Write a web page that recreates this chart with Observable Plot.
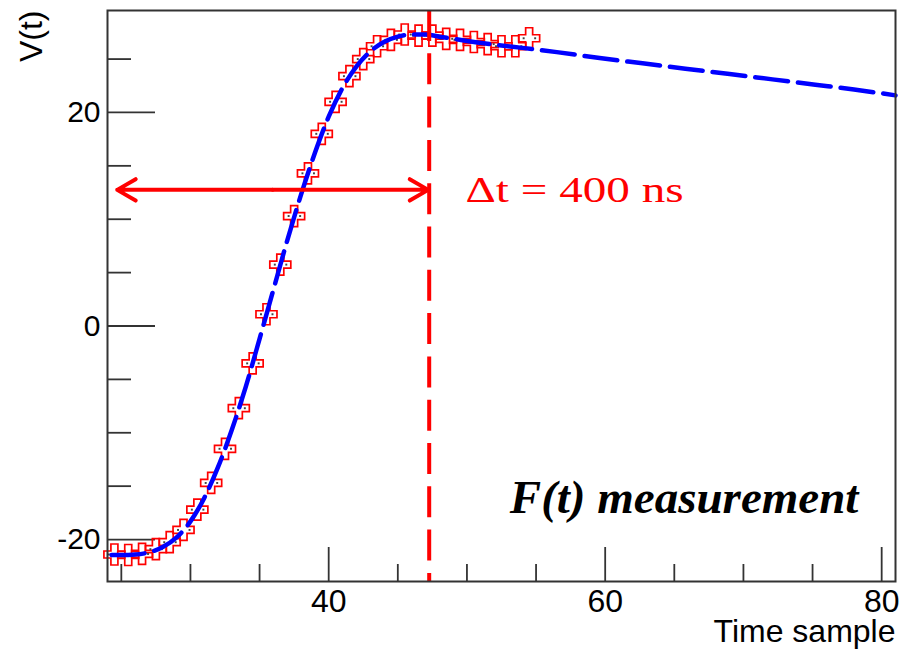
<!DOCTYPE html>
<html>
<head>
<meta charset="utf-8">
<script src="https://cdn.jsdelivr.net/npm/d3@7"></script>
<script src="https://cdn.jsdelivr.net/npm/@observablehq/plot@0.6"></script>
<style>
  html, body { margin: 0; padding: 0; background: #fff; }
  svg { display: block; }
</style>
</head>
<body>
<div id="chart"></div>
<script>
// ---- data ----
const sampleTime = [24.5, 25.5, 26.5, 27.5, 28.5, 29.5, 30.5, 31.5, 32.5, 33.5, 34.5, 35.5, 36.5, 37.5, 38.5, 39.5,
                    40.5, 41.5, 42.5, 43.5, 44.5, 45.5, 46.5, 47.5, 48.5, 49.5, 50.5, 51.5, 52.5, 53.5, 54.5];
const sampleV = [-21.4, -21.45, -21.35, -20.9, -20.25, -19.1, -17.2, -14.7, -11.5, -7.7, -3.5, 1.1, 5.75, 10.3, 14.3, 18.0,
                 21.0, 23.4, 25.0, 26.2, 26.8, 27.3, 27.2, 27.2, 26.9, 26.8, 26.6, 26.4, 26.2, 26.2, 26.95];

const fitTime = [24.3, 25, 26, 27, 28, 29, 30, 31, 32, 33, 34, 35, 36, 37, 38, 39, 40, 41, 42, 43, 44, 45, 46, 47, 48,
                 49, 50, 52, 54, 56.5, 59.6, 62.7, 65.8, 69, 72.1, 75.2, 78, 81];
const fitV = [-21.45, -21.45, -21.4, -21.2, -20.7, -19.8, -18.3, -16.1, -13.2, -9.7, -5.7, -1.2, 3.4, 8.0, 12.3, 16.2,
              19.6, 22.3, 24.3, 25.7, 26.6, 27.1, 27.3, 27.3, 27.1, 26.9, 26.7, 26.35, 26.05, 25.65, 25.1, 24.6, 24.1,
              23.6, 23.1, 22.6, 22.15, 21.6];

const xTicksMajor = [40, 60, 80];
const xTicksMinor = [25, 30, 35, 45, 50, 55, 65, 70, 75];
const yTicksMajor = [-20, 0, 20];
const yTicksMinor = [-15, -10, -5, 5, 10, 15, 25];

const xDomain = [24, 81];
const yDomain = [-23.93, 29.55];

const peakTime = 47.27;
const arrowSpan = [24.7, 47.2];
const arrowLevel = 12.75;

const deltaLabel = "\u0394t = 400 ns";
const deltaPos = [49.9, 12.7];
const noteLabel = "F(t) measurement";
const notePos = [53.1, -16.06];
const xTitle = "Time sample";
const yTitle = "V(t)";

// ---- build tables ----
const samples = sampleTime.map((t, i) => ({t, v: sampleV[i]}));
const fit = fitTime.map((t, i) => ({t, v: fitV[i]}));
const arrowMid = (arrowSpan[0] + arrowSpan[1]) / 2;
const arrows = arrowSpan.map(end => ({x1: arrowMid, x2: end, y: arrowLevel}));

const RED = "#ff0000";
const BLUE = "#0000ff";
const AXIS = "#333333";
const SANS = "'Liberation Sans', Arial, Helvetica, sans-serif";
const SERIF = "'Liberation Serif', 'Times New Roman', Times, serif";

// open cross marker (ROOT style 28)
const openCross = {
  draw(context, size) {
    const a = Math.sqrt(size / Math.PI);
    const b = a / 3;
    context.moveTo(-b, -a);
    context.lineTo(b, -a);
    context.lineTo(b, -b);
    context.lineTo(a, -b);
    context.lineTo(a, b);
    context.lineTo(b, b);
    context.lineTo(b, a);
    context.lineTo(-b, a);
    context.lineTo(-b, b);
    context.lineTo(-a, b);
    context.lineTo(-a, -b);
    context.lineTo(-b, -b);
    context.closePath();
  }
};

const chart = Plot.plot({
  width: 900,
  height: 649,
  marginLeft: 107,
  marginRight: 5,
  marginTop: 10,
  marginBottom: 68,
  style: {background: "#fff", fontFamily: SANS},
  x: {domain: xDomain},
  y: {domain: yDomain},
  marks: [
    // ticks (inward, ROOT style)
    Plot.ruleY(yTicksMajor, {y: d => d, x1: () => xDomain[0], x2: () => xDomain[0], insetRight: -48, stroke: AXIS, strokeWidth: 1.8}),
    Plot.ruleY(yTicksMinor, {y: d => d, x1: () => xDomain[0], x2: () => xDomain[0], insetRight: -24, stroke: AXIS, strokeWidth: 1.8}),
    Plot.ruleX(xTicksMajor, {x: d => d, y1: () => yDomain[0], y2: () => yDomain[0], insetTop: -34, stroke: AXIS, strokeWidth: 1.8}),
    Plot.ruleX(xTicksMinor, {x: d => d, y1: () => yDomain[0], y2: () => yDomain[0], insetTop: -17, stroke: AXIS, strokeWidth: 1.8}),
    // tick labels
    Plot.axisY({ticks: yTicksMajor, tickSize: 0, tickPadding: 7, fontSize: 30, fontFamily: SANS, label: null, tickFormat: d => `${d}`}),
    Plot.axisX({ticks: xTicksMajor, tickSize: 0, tickPadding: 8, fontSize: 32, fontFamily: SANS, label: null, tickFormat: d => `${d}`}),
    // axis titles
    Plot.text([xTitle], {text: d => d, frameAnchor: "bottom-right", textAnchor: "end", lineAnchor: "middle", dy: 50, fontSize: 32, fontFamily: SANS, fill: "#000"}),
    Plot.text([yTitle], {text: d => d, frameAnchor: "top-left", textAnchor: "end", lineAnchor: "middle", rotate: -90, dx: -76, fontSize: 32, fontFamily: SANS, fill: "#000"}),
    // measured samples
    Plot.dot(samples, {x: "t", y: "v", symbol: openCross, r: 10.5, stroke: RED, strokeWidth: 1.7, fill: "none"}),
    Plot.dot(samples, {x: "t", y: "v", symbol: "square", r: 1.1, dx: -5.5, fill: "#444", stroke: "none"}),
    Plot.dot(samples, {x: "t", y: "v", symbol: "square", r: 1.1, dx: 6, fill: "#444", stroke: "none"}),
    // fit curve
    Plot.line(fit, {x: "t", y: "v", stroke: BLUE, strokeWidth: 4.5, strokeDasharray: "33,10", curve: "monotone-x"}),
    // peak marker and delta arrow
    Plot.ruleX([peakTime], {x: d => d, stroke: RED, strokeWidth: 4, strokeDasharray: "31,12.3"}),
    Plot.arrow(arrows, {x1: "x1", x2: "x2", y1: "y", y2: "y", stroke: RED, strokeWidth: 4, headLength: 8}),
    Plot.text([deltaLabel], {text: d => d, x: () => deltaPos[0], y: () => deltaPos[1], textAnchor: "start", lineAnchor: "middle", fontSize: 35, fontFamily: SERIF, fill: RED}),
    Plot.text([noteLabel], {text: d => d, x: () => notePos[0], y: () => notePos[1], textAnchor: "start", lineAnchor: "middle", fontSize: 47, fontFamily: SERIF, fontWeight: "bold", fontStyle: "italic", fill: "#000"}),
    Plot.frame({stroke: AXIS, strokeWidth: 2})
  ]
});

// stretch the delta label horizontally like the reference
d3.select(chart).selectAll("text")
  .filter(function() { return this.textContent === deltaLabel; })
  .attr("textLength", 218)
  .attr("lengthAdjust", "spacingAndGlyphs");

document.getElementById("chart").appendChild(chart);
</script>
</body>
</html>
